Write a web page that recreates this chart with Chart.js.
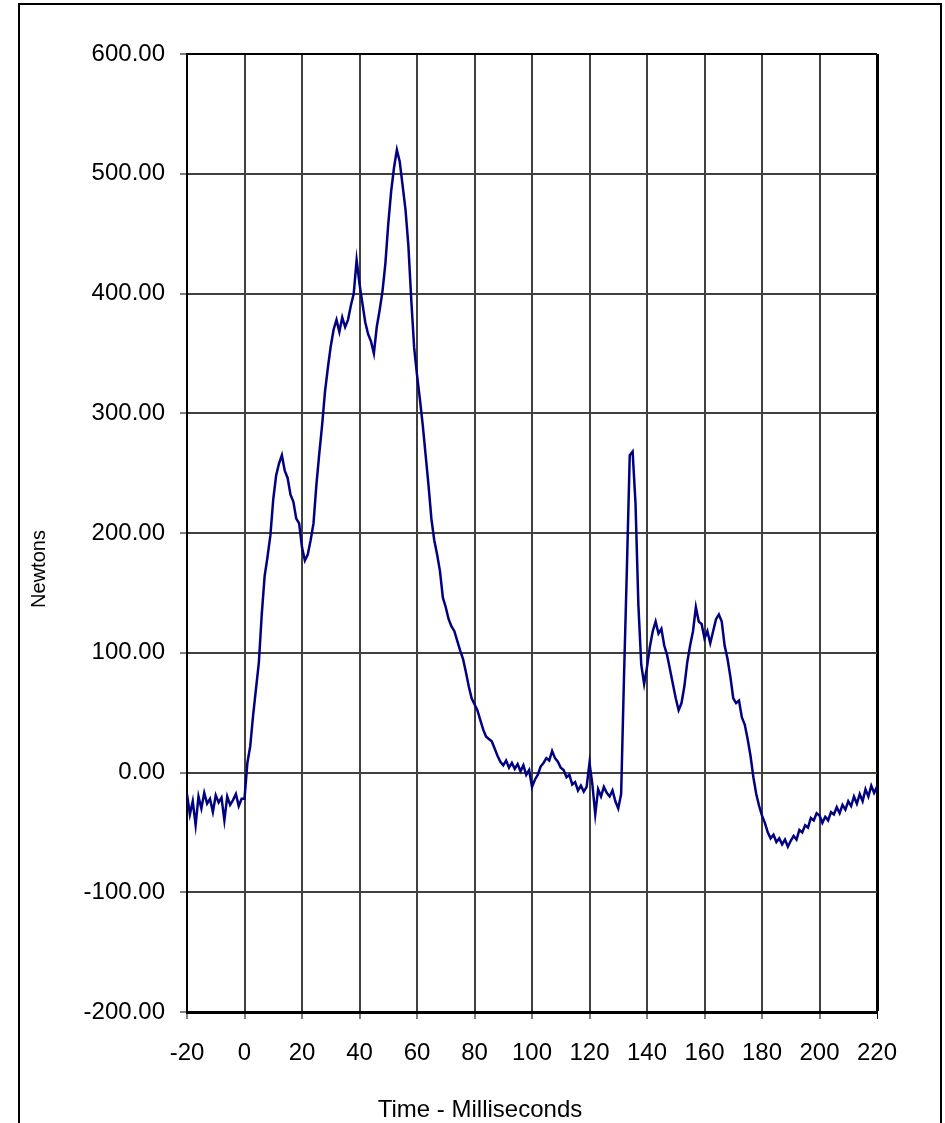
<!DOCTYPE html>
<html>
<head>
<meta charset="utf-8">
<title>Newtons vs Time</title>
<script src="https://cdn.jsdelivr.net/npm/chart.js@4.4.1/dist/chart.umd.min.js"></script>
<style>
    body { margin: 0; background: #fff; }
    canvas { display: block; }
</style>
</head>
<body>
<canvas id="force-chart" width="945" height="1123"></canvas>
<script>
// Data, one sample per millisecond from -20 ms
const startMs = -20;
const stepMs = 1;
const newtons = [
    -18, -35, -24, -44, -20, -30, -17, -26, -22, -33,
    -19, -25, -21, -40, -20, -27, -23, -18, -28, -22,
    -22, 8, 22, 48, 70, 92, 132, 164, 180, 198,
    228, 248, 258, 265, 252, 246, 232, 226, 212, 208,
    188, 177, 182, 194, 208, 240, 266, 290, 318, 338,
    356, 370, 378, 368, 380, 372, 378, 390, 400, 428,
    408, 392, 376, 366, 360, 350, 372, 386, 402, 425,
    458, 485, 505, 520, 510, 490, 470, 440, 395, 355,
    332, 312, 290, 265, 240, 212, 194, 182, 168, 146,
    138, 128, 122, 118, 110, 102, 95, 84, 72, 62,
    57, 52, 44, 36, 30, 28, 26, 20, 14, 9,
    6, 10, 4, 8, 3, 7, 1, 6, -2, 2,
    -12, -6, -2, 5, 8, 12, 10, 18, 12, 9,
    4, 2, -4, -2, -10, -8, -15, -11, -16, -12,
    8, -10, -35, -14, -20, -12, -17, -20, -15, -24,
    -30, -18, 80, 170, 265, 268, 225, 140, 90, 74,
    88, 105, 118, 126, 116, 120, 106, 98, 86, 74,
    62, 52, 58, 72, 92, 106, 118, 138, 126, 124,
    112, 118, 108, 118, 128, 132, 126, 106, 95, 80,
    62, 58, 60, 46, 40, 28, 14, -4, -18, -28,
    -36, -42, -50, -55, -52, -58, -55, -60, -56, -62,
    -57, -53, -56, -48, -50, -44, -46, -38, -40, -34,
    -36, -42, -37, -40, -33, -35, -29, -34, -27, -31,
    -24, -28, -20, -26, -18, -24, -14, -20, -11, -17,
    -12
];

const xTicks = { min: -20, max: 220, step: 20 };
const yTicks = { min: -200, max: 600, step: 100 };

const fontFamily = 'Arial, "Liberation Sans", sans-serif';

// Outer frame and axis titles
const framePlugin = {
    id: 'frame',
    beforeDraw(chart) {
        const ctx = chart.ctx;
        ctx.save();
        ctx.fillStyle = '#fff';
        ctx.fillRect(0, 0, chart.width, chart.height);
        ctx.strokeStyle = '#000';
        ctx.lineWidth = 2;
        ctx.strokeRect(19, 4, 922, 1200);
        ctx.restore();
    },
    afterDraw(chart) {
        const ctx = chart.ctx;
        ctx.save();
        ctx.fillStyle = '#000';
        ctx.font = `24px ${fontFamily}`;
        ctx.textAlign = 'center';
        ctx.textBaseline = 'alphabetic';
        ctx.fillText('Time - Milliseconds', 480, 1117);

        ctx.translate(45, 569);
        ctx.rotate(-Math.PI / 2);
        ctx.font = `20px ${fontFamily}`;
        ctx.fillText('Newtons', 0, 0);
        ctx.restore();
    }
};

function buildPoints() {
    return newtons.map((v, i) => ({ x: startMs + i * stepMs, y: v }));
}

function initChart() {
    const ctx = document.getElementById('force-chart');
    new Chart(ctx, {
        type: 'line',
        data: {
            datasets: [{
                label: 'Newtons',
                data: buildPoints(),
                borderColor: '#000080',
                borderWidth: 2.5,
                pointRadius: 0,
                tension: 0,
                fill: false
            }]
        },
        options: {
            responsive: false,
            animation: false,
            devicePixelRatio: 1,
            layout: { padding: { left: 0, top: 54, right: 68, bottom: 0 } },
            plugins: {
                legend: { display: false },
                tooltip: { enabled: false }
            },
            scales: {
                x: {
                    type: 'linear',
                    min: xTicks.min,
                    max: xTicks.max,
                    afterFit(scale) { scale.height = 111; },
                    ticks: {
                        stepSize: xTicks.step,
                        color: '#000',
                        padding: 20,
                        maxRotation: 0,
                        font: { family: fontFamily, size: 24 }
                    },
                    grid: {
                        color: (c) => c.tick && c.tick.value === xTicks.max ? '#000' : '#404040',
                        lineWidth: (c) => c.tick && c.tick.value === xTicks.max ? 3 : 2,
                        tickColor: '#000',
                        tickLength: 7,
                        tickWidth: 1
                    },
                    border: { color: '#000', width: 3 }
                },
                y: {
                    min: yTicks.min,
                    max: yTicks.max,
                    afterFit(scale) { scale.width = 187; },
                    ticks: {
                        stepSize: yTicks.step,
                        color: '#000',
                        padding: 15,
                        font: { family: fontFamily, size: 24 },
                        callback: (v) => v.toFixed(2)
                    },
                    grid: {
                        color: (c) => c.tick && c.tick.value === yTicks.max ? '#000' : '#404040',
                        lineWidth: 2,
                        tickColor: '#000',
                        tickLength: 7,
                        tickWidth: 1
                    },
                    border: { color: '#000', width: 2 }
                }
            }
        },
        plugins: [framePlugin]
    });
}
document.addEventListener("DOMContentLoaded", initChart);
</script>
</body>
</html>
